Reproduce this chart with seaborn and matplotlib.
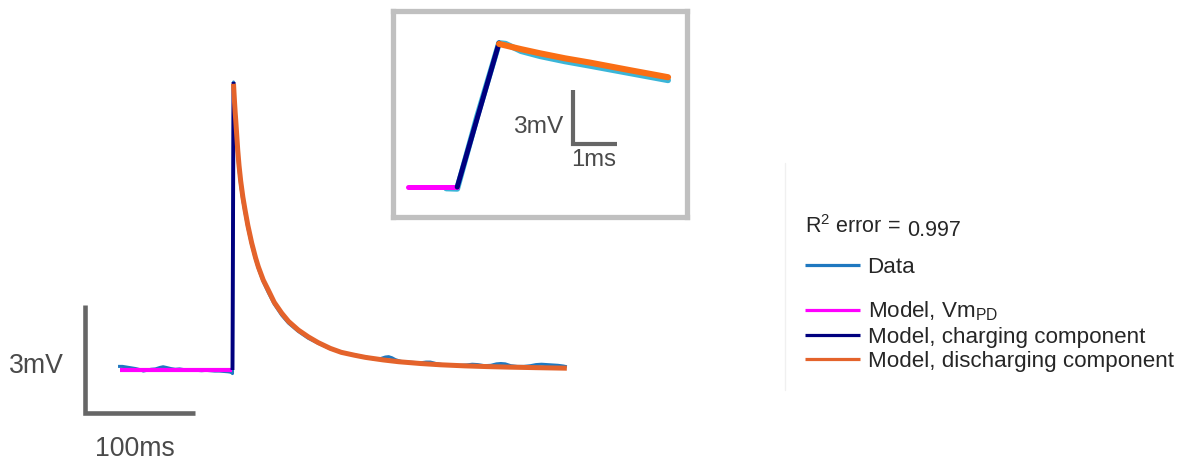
import matplotlib
matplotlib.use("Agg")
import matplotlib.pyplot as plt
import pandas as pd
import seaborn as sns
from matplotlib.lines import Line2D

# ---------------------------------------------------------------------------
# Membrane potential (mV above rest) against time (ms, 0 = end of charging)
# ---------------------------------------------------------------------------
data_t = [-105.0, -101.0, -97.0, -93.0, -89.0, -85.0, -82.0, -79.0, -75.0,
          -71.0, -67.0, -64.0, -61.0, -57.0, -53.0, -49.0, -45.0, -41.0,
          -37.0, -33.0, -29.0, -25.0, -21.0, -17.0, -13.0, -9.0, -5.0, -3.0,
          -1.2, -0.95, -0.5, 0.0, 0.15, 0.5, 0.93, 1.5, 2.07, 3.0, 3.84, 5.0,
          6.5, 8.5, 10.5, 13.0, 16.5, 20.0, 22.5, 27.0, 31.6, 37.0, 43.8,
          50.0, 58.9, 68.0, 77.0, 88.0, 98.0, 104.0, 110.0, 116.0, 122.0,
          128.0, 132.0, 135.0, 138.0, 141.0, 144.0, 147.0, 152.0, 158.0,
          164.0, 170.0, 175.0, 179.0, 184.0, 190.0, 198.0, 206.0, 212.0,
          217.0, 222.0, 228.0, 234.0, 239.0, 243.0, 247.0, 252.0, 258.0,
          264.0, 270.0, 275.0, 280.0, 285.0, 290.0, 295.0, 300.0, 303.0]
data_v = [0.10, 0.10, 0.08, 0.06, 0.04, 0.01, -0.03, -0.01, 0.02,
          0.03, 0.07, 0.09, 0.07, 0.04, 0.02, 0.03, 0.01, -0.01,
          0.00, -0.01, -0.02, -0.01, -0.02, -0.03, -0.03, -0.04, -0.05, -0.06,
          -0.08, -0.10, 3.90, 8.00, 7.96, 7.55, 7.27, 6.98, 6.73, 6.31, 5.93, 5.55,
          5.12, 4.70, 4.36, 3.95, 3.47, 3.08, 2.82, 2.45, 2.15, 1.83, 1.52,
          1.30, 1.07, 0.88, 0.74, 0.59, 0.50, 0.45, 0.42, 0.38, 0.35,
          0.30, 0.30, 0.33, 0.36, 0.37, 0.34, 0.29, 0.24, 0.22,
          0.21, 0.20, 0.22, 0.22, 0.18, 0.15, 0.14, 0.13, 0.14,
          0.16, 0.15, 0.12, 0.13, 0.17, 0.18, 0.17, 0.12, 0.10,
          0.10, 0.12, 0.15, 0.16, 0.15, 0.14, 0.13, 0.11, 0.09]

# Model: pre-depolarisation potential Vm_PD
vmpd_t = [-103.0, -0.95]
vmpd_v = [0.0, 0.0]

# Model: charging component
charge_t = [-0.95, 0.0]
charge_v = [0.0, 8.0]

# Model: discharging component
discharge_t = [0.0, 0.5, 0.93, 1.5, 2.07, 3.0, 3.84, 5.0, 6.5, 8.5, 10.5,
               13.0, 16.5, 20.0, 22.5, 27.0, 31.6, 37.0, 43.8, 50.0, 58.9,
               68.0, 77.0, 88.0, 98.0, 110.0, 120.0, 136.0, 150.0, 170.0,
               188.0, 210.0, 230.0, 250.0, 275.0, 303.0]
discharge_v = [7.95, 7.66, 7.43, 7.15, 6.91, 6.48, 6.10, 5.68, 5.25, 4.80,
               4.44, 4.02, 3.53, 3.12, 2.87, 2.50, 2.22, 1.88, 1.58, 1.35,
               1.11, 0.92, 0.76, 0.60, 0.49, 0.41, 0.35, 0.28, 0.23, 0.18,
               0.145, 0.115, 0.095, 0.08, 0.065, 0.05]

r2_value = 0.997
legend_labels = ["Data", "Model, Vm$_{PD}$", "Model, charging component",
                 "Model, discharging component"]

# Window shown in the magnified view (ms)
zoom_window = (-2.07, 3.84)

# ---------------------------------------------------------------------------
sns.set_theme(style="white")
plt.rcParams["font.family"] = ["Liberation Sans", "DejaVu Sans"]
plt.rcParams["mathtext.fontset"] = "custom"
plt.rcParams["mathtext.rm"] = "Liberation Sans"
plt.rcParams["mathtext.it"] = "Liberation Sans:italic"
plt.rcParams["mathtext.default"] = "regular"

W, H = 1178, 461
fig = plt.figure(figsize=(W / 100, H / 100), dpi=100)
fig.patch.set_facecolor("white")

df_data = pd.DataFrame({"t": data_t, "v": data_v})
df_pd = pd.DataFrame({"t": vmpd_t, "v": vmpd_v})
df_ch = pd.DataFrame({"t": charge_t, "v": charge_v})
df_dis = pd.DataFrame({"t": discharge_t, "v": discharge_v})

C_DATA, C_DATA_IN = "#1f78c0", "#3ab5d8"
C_PD = "#ff00ff"
C_CH = "#00007f"
C_DIS, C_DIS_IN = "#e4632b", "#fa6e14"
C_BAR = "#666666"
C_TXT = "#4a4a4a"

# ---------------- main trace ----------------
ax = fig.add_axes([0, 0, 1, 1])
ax.set_xlim(-212.3, 858.6)
ax.set_ylim(-2.528, 10.278)
ax.set_axis_off()

kw = dict(estimator=None, sort=False, legend=False)
sns.lineplot(data=df_data, x="t", y="v", ax=ax, color=C_DATA, linewidth=2.2, **kw)
h_data = ax.lines[-1]
sns.lineplot(data=df_pd, x="t", y="v", ax=ax, color=C_PD, linewidth=3.0, **kw)
h_pd = ax.lines[-1]
sns.lineplot(data=df_dis, x="t", y="v", ax=ax, color=C_DIS, linewidth=3.6, **kw)
h_dis = ax.lines[-1]
sns.lineplot(data=df_ch, x="t", y="v", ax=ax, color=C_CH, linewidth=2.8, **kw)
h_ch = ax.lines[-1]
h_dis.set_zorder(h_ch.get_zorder() + 1)
for ln in (h_data, h_pd, h_dis, h_ch):
    ln.set_solid_capstyle("butt")

# scale bar: 3 mV / 100 ms
bar_x0, bar_y0 = -135.0, -1.194
ax.plot([bar_x0, bar_x0, bar_x0 + 100], [bar_y0 + 3, bar_y0, bar_y0],
        color=C_BAR, linewidth=3.3, solid_joinstyle="miter",
        solid_capstyle="butt")
ax.text(-179.5, 0.11, "3mV", fontsize=19.2, color=C_TXT, ha="center", va="center")
ax.text(-89.5, -2.19, "100ms", fontsize=19.2, color=C_TXT, ha="center", va="center")

# ---------------- magnified view ----------------
axin = fig.add_axes([392.5 / W, 1 - 217 / H, (687 - 392.5) / W, (217 - 11) / H])
axin.set_facecolor("white")
axin.set_xlim(-2.42, 4.27)
axin.set_ylim(-1.667, 9.78)
axin.set_xticks([])
axin.set_yticks([])
for sp in axin.spines.values():
    sp.set_visible(True)
    sp.set_color("#c0c0c0")
    sp.set_linewidth(3.8)

lo, hi = zoom_window
in_data = df_data[(df_data.t >= lo) & (df_data.t <= hi)]
in_dis = df_dis[df_dis.t <= hi]
in_pd = pd.DataFrame({"t": [lo, vmpd_t[1]], "v": vmpd_v})
sns.lineplot(data=in_data, x="t", y="v", ax=axin, color=C_DATA_IN, linewidth=4.2, **kw)
sns.lineplot(data=in_pd, x="t", y="v", ax=axin, color=C_PD, linewidth=3.6, **kw)
sns.lineplot(data=df_ch, x="t", y="v", ax=axin, color=C_CH, linewidth=3.6, **kw)
sns.lineplot(data=in_dis, x="t", y="v", ax=axin, color=C_DIS_IN, linewidth=4.4, **kw)
axin.set_xlabel("")
axin.set_ylabel("")

# scale bar: 3 mV / 1 ms
ibx, iby = 1.68, 2.39
axin.plot([ibx, ibx, ibx + 1], [iby + 3, iby, iby], color=C_BAR, linewidth=3.0,
          solid_joinstyle="miter", solid_capstyle="butt")
axin.text(1.455, 3.33, "3mV", fontsize=17.6, color=C_TXT, ha="right", va="center")
axin.text(2.16, 1.5, "1ms", fontsize=17.2, color=C_TXT, ha="center", va="center")

# ---------------- fit quality + legend ----------------
fig.add_artist(Line2D([785 / W, 785 / W], [1 - 163 / H, 1 - 390 / H],
                      color="#f0f0f0", linewidth=1.0))
fig.text(805 / W, 1 - 233 / H, "R$^{2}$ error =", fontsize=15.5,
         color="#262626", ha="left", va="baseline")
fig.text(907 / W, 1 - 236 / H, f"{r2_value:.3f}", fontsize=15.5,
         color="#262626", ha="left", va="baseline")

leg_kw = dict(loc="center left", frameon=False, fontsize=16.1, handlelength=2.45,
              handletextpad=0.35, borderpad=0, borderaxespad=0,
              labelcolor="#262626")
leg1 = fig.legend(handles=[h_data], labels=legend_labels[:1],
                  bbox_to_anchor=(805 / W, 1 - 267 / H), **leg_kw)
leg2 = fig.legend(handles=[h_pd, h_ch, h_dis], labels=legend_labels[1:],
                  bbox_to_anchor=(805 / W, 1 - 336 / H), labelspacing=0.15,
                  **leg_kw)
for lg in (leg1, leg2):
    for ln in lg.get_lines():
        ln.set_linewidth(2.3)

fig.savefig("out.png", dpi=100, facecolor="white")
